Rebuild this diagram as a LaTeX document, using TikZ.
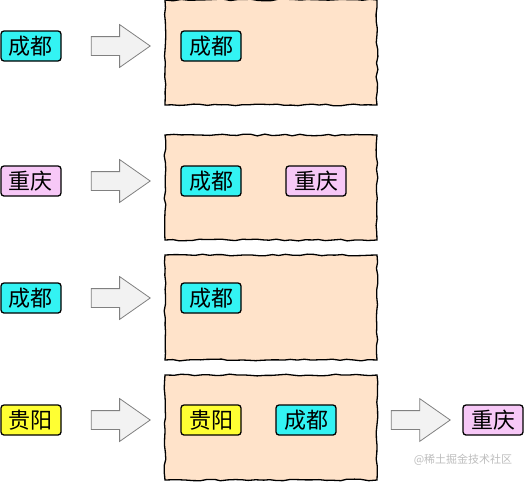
\documentclass[tikz,border=0pt]{standalone}
\usepackage{fontspec}
\newfontfamily\cjk{Noto Sans CJK SC}
\usepackage{tikz}
\usetikzlibrary{shapes.arrows,decorations.pathmorphing}
\definecolor{CityCyan}{HTML}{33F3F3}
\definecolor{CityPink}{HTML}{F7C8F7}
\definecolor{CityYellow}{HTML}{FFFF33}
\definecolor{BoxPeach}{HTML}{FFE3CA}
\definecolor{ArrowGray}{HTML}{F2F2F2}
\definecolor{MarkGray}{HTML}{BDBDBD}

\begin{document}
\begin{tikzpicture}[
  x=1pt,y=-1pt,
  city/.style={draw,line width=1.3pt,rounded corners=3pt,minimum width=60pt,minimum height=30pt,inner sep=0pt,font=\cjk\fontsize{22}{24}\selectfont},
  pool/.style={draw,line width=1.3pt,fill=BoxPeach,minimum width=212pt,minimum height=105pt,decorate,decoration={random steps,segment length=7pt,amplitude=0.9pt}},
  push/.style={single arrow,draw=gray,line width=0.8pt,fill=ArrowGray,minimum height=59pt,inner xsep=0pt,inner ysep=9pt,single arrow head extend=12pt,single arrow tip angle=70,single arrow head indent=0pt}
]
\useasboundingbox (0,0) rectangle (527,482);
\pgfmathsetseed{7}
% row 1
\node[city,fill=CityCyan] (in1) at (31,46) {成都};
\node[push] (arr1) at (114,46) {};
\node[pool] (box1) at (271,52.5) {};
\node[city,fill=CityCyan] (b1a) at (211,46) {成都};
% row 2
\node[city,fill=CityPink] (in2) at (31,181) {重庆};
\node[push] (arr2) at (114,181) {};
\node[pool] (box2) at (271,187.5) {};
\node[city,fill=CityCyan] (b2a) at (211,181) {成都};
\node[city,fill=CityPink] (b2b) at (316,181) {重庆};
% row 3
\node[city,fill=CityCyan] (in3) at (31,298) {成都};
\node[push] (arr3) at (114,298) {};
\node[pool] (box3) at (271,307.5) {};
\node[city,fill=CityCyan] (b3a) at (211,298) {成都};
% row 4
\node[city,fill=CityYellow] (in4) at (31,420) {贵阳};
\node[push] (arr4) at (114,420) {};
\node[pool] (box4) at (271,427.5) {};
\node[city,fill=CityYellow] (b4a) at (211,420) {贵阳};
\node[city,fill=CityCyan] (b4b) at (306,420) {成都};
\node[push] (arr5) at (414,420) {};
\node[city,fill=CityPink] (out4) at (493,420) {重庆};
\node[text=MarkGray,font=\cjk\fontsize{11}{12}\selectfont] (mark) at (463,460) {@稀土掘金技术社区};
\end{tikzpicture}
\end{document}
